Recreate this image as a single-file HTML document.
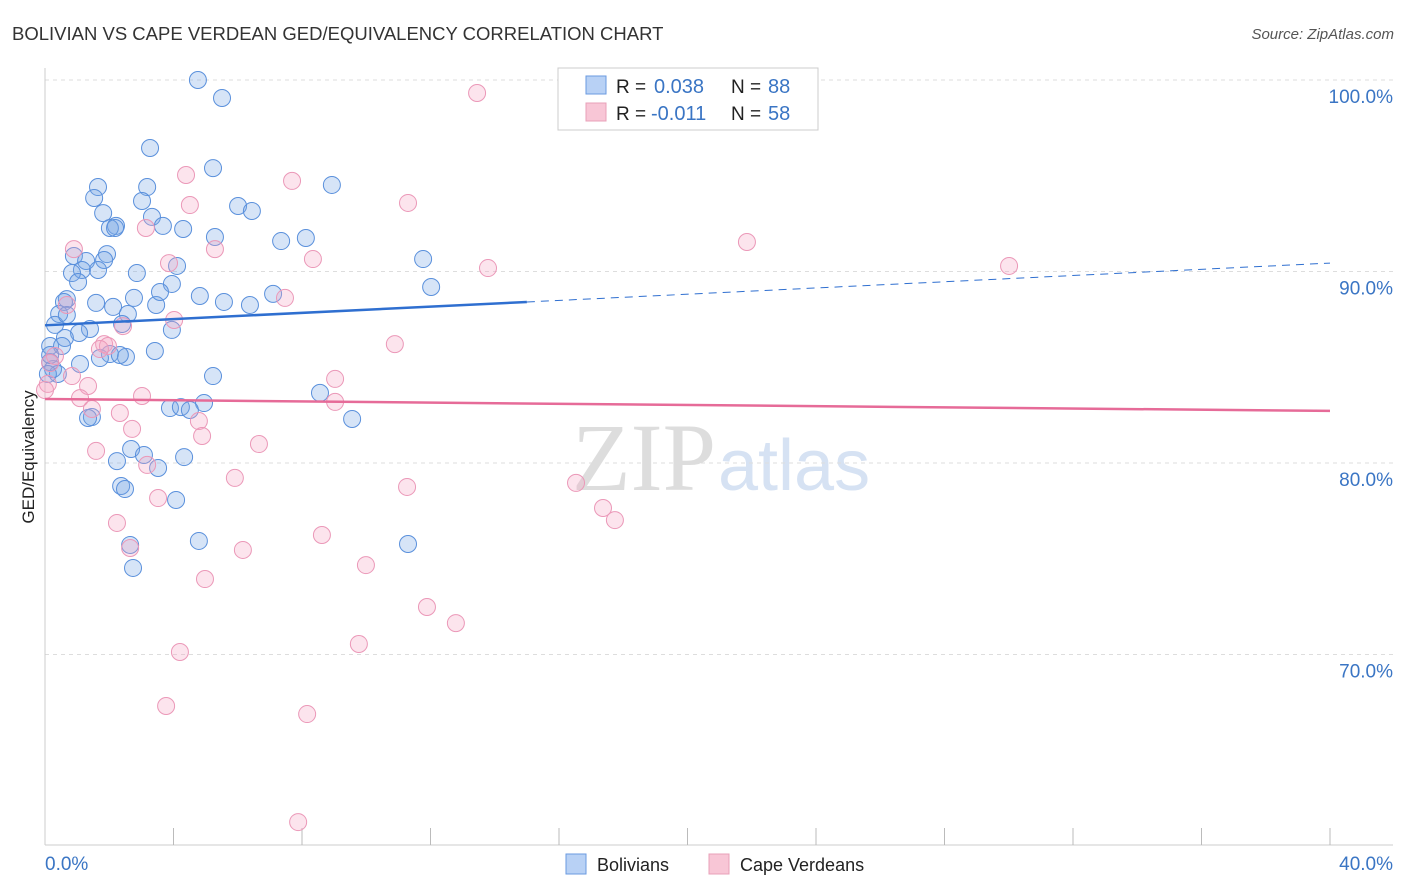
<!DOCTYPE html>
<html><head><meta charset="utf-8">
<style>
body{margin:0;background:#fff;font-family:"Liberation Sans",sans-serif;}
#wrap{position:relative;width:1406px;height:892px;overflow:hidden;}
</style></head>
<body>
<div id="wrap">
<svg id="chart" width="1406" height="892" xmlns="http://www.w3.org/2000/svg">
<text x="12" y="40" font-size="18.5" fill="#333">BOLIVIAN VS CAPE VERDEAN GED/EQUIVALENCY CORRELATION CHART</text>
<text x="1394" y="39" font-size="15" fill="#555" font-style="italic" text-anchor="end">Source: ZipAtlas.com</text>
<text x="716" y="490" font-size="96" fill="#ddd" font-family="Liberation Serif,serif" text-anchor="end">ZIP</text>
<text x="718" y="490" font-size="72" fill="#d6e2f3" text-anchor="start">atlas</text>
<g id="grid"></g>
<g id="axes"></g>
<g id="pts"></g>
<g id="trend"></g>
<text transform="translate(34,457) rotate(-90)" font-size="17" fill="#222" text-anchor="middle">GED/Equivalency</text>
<g>
<rect x="558" y="68" width="260" height="62" fill="#fff" stroke="#ccc"/>
<rect x="586" y="76" width="20" height="18" fill="#b8d1f5" stroke="#6a9ae0"/>
<rect x="586" y="103" width="20" height="18" fill="#f8c6d6" stroke="#e8a0b8"/>
<text x="616" y="93" font-size="19" fill="#222">R =</text>
<text x="654" y="93" font-size="20" fill="#3a75c4">0.038</text>
<text x="731" y="93" font-size="19" fill="#222">N =</text>
<text x="768" y="93" font-size="20" fill="#3a75c4">88</text>
<text x="616" y="120" font-size="19" fill="#222">R =</text>
<text x="651" y="120" font-size="20" fill="#3a75c4">-0.011</text>
<text x="731" y="120" font-size="19" fill="#222">N =</text>
<text x="768" y="120" font-size="20" fill="#3a75c4">58</text>
</g>
<g>
<rect x="566" y="854" width="20" height="20" fill="#b8d1f5" stroke="#6a9ae0"/>
<text x="597" y="871" font-size="18" fill="#222">Bolivians</text>
<rect x="709" y="854" width="20" height="20" fill="#f8c6d6" stroke="#e8a0b8"/>
<text x="740" y="871" font-size="18" fill="#222">Cape Verdeans</text>
</g>
</svg>
</div>
<script>
const blueX=[4.76,5.51,3.27,5.23,1.65,3.18,8.93,1.53,3.02,6.01,6.44,1.81,3.33,2.21,2.02,3.67,4.30,5.29,7.35,8.12,0.90,1.93,1.28,1.15,1.84,4.11,2.86,0.84,11.77,1.03,3.95,12.02,0.68,0.59,1.59,2.77,7.10,3.46,5.57,6.38,2.12,2.58,0.44,0.31,2.40,1.40,3.95,1.06,0.62,0.16,0.53,2.02,2.52,3.42,1.71,1.09,0.16,0.25,0.40,5.23,8.56,4.95,3.89,4.23,4.51,1.46,1.34,9.56,2.68,3.08,4.33,2.24,3.52,2.37,2.49,4.08,4.79,2.65,11.30,2.74,0.16,2.18,1.65,0.68,2.33,0.09,4.82,3.58];
const blueY=[100,99.06,96.45,95.40,94.41,94.41,94.52,93.84,93.68,93.42,93.16,93.05,92.85,92.38,92.27,92.38,92.22,91.80,91.59,91.75,90.81,90.91,90.55,90.08,90.60,90.29,89.92,89.92,90.65,89.45,89.35,89.19,88.56,88.41,88.36,88.62,88.83,88.25,88.41,88.25,88.15,87.78,87.78,87.21,87.26,87.00,86.95,86.79,86.53,86.11,86.11,85.69,85.54,85.85,85.48,85.17,85.27,84.91,84.65,84.54,83.66,83.13,82.87,82.92,82.77,82.40,82.35,82.30,80.73,80.42,80.31,80.10,79.74,78.80,78.64,78.07,75.93,75.72,75.77,74.52,85.64,92.27,90.08,87.73,85.64,84.65,88.72,88.93];
const pinkX=[13.45,4.39,7.69,4.51,11.30,3.14,21.85,0.90,5.29,8.34,3.86,13.79,30.01,7.47,0.68,4.02,2.43,10.89,1.84,1.96,1.71,0.31,0.16,0.84,1.34,9.03,0.09,0.00,1.09,3.02,9.03,1.46,2.33,4.79,2.71,4.89,6.66,1.59,3.18,5.91,11.27,16.53,3.52,17.37,17.74,2.24,2.65,6.16,8.62,9.99,4.98,11.89,12.79,9.77,4.20,3.77,8.16,7.88];
const pinkY=[99.32,95.04,94.73,93.47,93.58,92.27,91.54,91.17,91.17,90.65,90.44,90.18,90.29,88.62,88.25,87.47,87.15,86.21,86.21,86.11,85.95,85.59,85.22,84.54,84.02,84.39,84.13,83.81,83.39,83.50,83.19,82.82,82.61,82.19,81.78,81.41,80.99,80.63,79.90,79.22,78.75,78.96,78.17,77.65,77.02,76.87,75.56,75.46,76.24,74.67,73.94,72.48,71.64,70.55,70.13,67.31,66.89,61.25];
const yTicks=[100,90,80,70];
const yTickLabels=["100.0%","90.0%","80.0%","70.0%"];
const blueTrend=[87.19,90.44];
const pinkTrend=[83.34,82.72];
const NS="http://www.w3.org/2000/svg";
const sx=v=>45+v/40*1285;
const sy=v=>80+(100-v)*19.15;
function mk(t,a,p){const e=document.createElementNS(NS,t);for(const k in a)e.setAttribute(k,a[k]);p.appendChild(e);return e;}
const grid=document.getElementById('grid'),axes=document.getElementById('axes'),pts=document.getElementById('pts'),tr=document.getElementById('trend');
yTicks.forEach((v,i)=>{
 const l=mk('line',{x1:45,x2:1393,y1:sy(v),y2:sy(v),stroke:'#ddd','stroke-dasharray':'4,4'},grid);
 
 
 const t=mk('text',{x:1393,y:sy(v)+23,'font-size':19,fill:'#3a75c4','text-anchor':'end'},grid);
 t.textContent=yTickLabels[i];
 
 
});
mk('line',{x1:45,x2:45,y1:68,y2:845,stroke:'#ccc'},axes);
mk('line',{x1:45,x2:1393,y1:845,y2:845,stroke:'#ccc'},axes);
for(let i=1;i<=10;i++){
 const x=sx(i*4);
 const t=mk('line',{x1:x,x2:x,y1:828,y2:845,stroke:'#bbb'},axes);
 
 
}
const x0=mk('text',{x:45,y:870,'font-size':19,fill:'#3a75c4'},axes);x0.textContent='0.0%';


const x1=mk('text',{x:1393,y:870,'font-size':19,fill:'#3a75c4','text-anchor':'end'},axes);x1.textContent='40.0%';


blueX.forEach((v,i)=>{
 const c=mk('circle',{cx:sx(v),cy:sy(blueY[i]),r:8.5,fill:'rgba(120,165,230,0.3)',stroke:'#5a90dc','stroke-width':1},pts);
 
 
});
pinkX.forEach((v,i)=>{
 const c=mk('circle',{cx:sx(v),cy:sy(pinkY[i]),r:8.5,fill:'rgba(245,165,195,0.3)',stroke:'#eb98b8','stroke-width':1},pts);
 
 
});
const bAt=x=>blueTrend[0]+(blueTrend[1]-blueTrend[0])*x/40;
const b1=mk('line',{x1:sx(0),y1:sy(bAt(0)),x2:sx(15),y2:sy(bAt(15)),stroke:'#2f6fd0','stroke-width':2.5},tr);


const b2=mk('line',{x1:sx(15),y1:sy(bAt(15)),x2:sx(40),y2:sy(bAt(40)),stroke:'#2f6fd0','stroke-width':1,'stroke-dasharray':'8,6'},tr);


const p1=mk('line',{x1:sx(0),y1:sy(pinkTrend[0]),x2:sx(40),y2:sy(pinkTrend[1]),stroke:'#e66b98','stroke-width':2.5},tr);


</script>
</body></html>
